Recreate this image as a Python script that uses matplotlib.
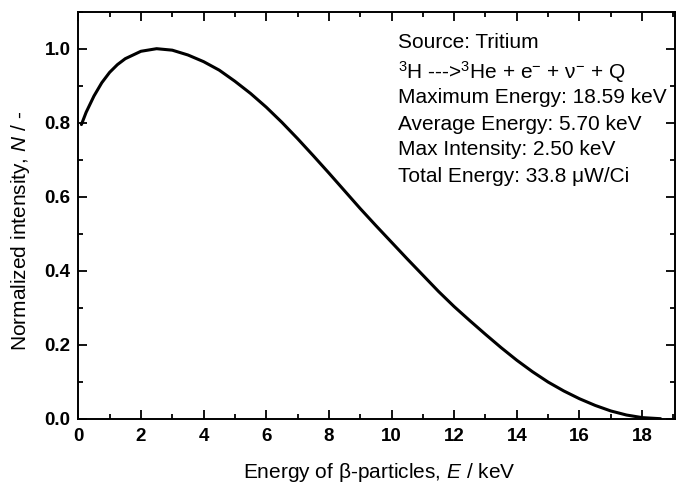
import matplotlib
matplotlib.use("Agg")
import matplotlib.pyplot as plt
from matplotlib.ticker import MultipleLocator

plt.rcParams['font.family'] = ['Liberation Sans', 'DejaVu Sans']
plt.rcParams['mathtext.fontset'] = 'custom'
plt.rcParams['mathtext.rm'] = 'Liberation Sans'
plt.rcParams['mathtext.it'] = 'Liberation Sans:italic'
plt.rcParams['mathtext.bf'] = 'Liberation Sans:bold'

energy = [0.1, 0.25, 0.5, 0.75, 1.0, 1.25, 1.5, 2.0, 2.5, 3.0, 3.5, 4.0, 4.5, 5.0,
          5.5, 6.0, 6.5, 7.0, 7.5, 8.0, 8.5, 9.0, 9.5, 10.0, 10.5, 11.0, 11.5,
          12.0, 12.5, 13.0, 13.5, 14.0, 14.5, 15.0, 15.5, 16.0, 16.5, 17.0,
          17.5, 18.0, 18.59]
intensity = [0.795, 0.828, 0.872, 0.908, 0.936, 0.957, 0.973, 0.993, 1.000, 0.996,
             0.983, 0.965, 0.942, 0.912, 0.879, 0.842, 0.801, 0.757, 0.711, 0.664,
             0.616, 0.568, 0.522, 0.477, 0.432, 0.388, 0.344, 0.303, 0.265, 0.228,
             0.192, 0.158, 0.127, 0.099, 0.075, 0.054, 0.036, 0.021, 0.010, 0.003,
             0.0]

x_ticks = [0, 2, 4, 6, 8, 10, 12, 14, 16, 18]
y_ticks = [0.0, 0.2, 0.4, 0.6, 0.8, 1.0]

info_lines = [
    "Source: Tritium",
    r"$^{3}$H --->$^{3}$He + e$^{-}$ + ν$^{-}$ + Q",
    "Maximum Energy: 18.59 keV",
    "Average Energy: 5.70 keV",
    "Max Intensity: 2.50 keV",
    "Total Energy: 33.8 μW/Ci",
]

fig = plt.figure(figsize=(6.79, 4.83), dpi=100)
ax = fig.add_axes([0.1153, 0.1331, 0.8788, 0.8427])

ax.plot(energy, intensity, color='black', lw=2.2, solid_capstyle='round',
        solid_joinstyle='round')

ax.set_xlim(0, 19.05)
ax.set_ylim(0, 1.1)
ax.set_xticks(x_ticks)
ax.set_yticks(y_ticks)
ax.set_xticklabels([str(t) for t in x_ticks])
ax.set_yticklabels([f"{t:.1f}" for t in y_ticks])
ax.xaxis.set_minor_locator(MultipleLocator(1))
ax.yaxis.set_minor_locator(MultipleLocator(0.1))

ax.tick_params(which='both', direction='in', top=True, right=True, width=1.3)
ax.tick_params(which='major', length=6.5, labelsize=13.5)
ax.tick_params(axis='x', which='major', pad=7)
ax.tick_params(axis='y', which='major', pad=5.5)
ax.tick_params(which='minor', length=3.5)
for lab in ax.get_xticklabels() + ax.get_yticklabels():
    lab.set_fontweight('bold')
for sp in ax.spines.values():
    sp.set_linewidth(1.4)

fig.text(379 / 679, 1 - 478 / 483, r"Energy of β-particles, $\it{E}$ / keV",
         fontsize=15, ha='center', va='baseline')
fig.text(21 / 679, 1 - 231 / 483, r"Normalized intensity, $\it{N}$ / -",
         fontsize=15, ha='center', va='center', rotation=90)

ys = [0.910, 0.836, 0.775, 0.709, 0.648, 0.582]
for line, yy in zip(info_lines, ys):
    ax.text(0.536, yy, line, transform=ax.transAxes, fontsize=15,
            ha='left', va='baseline')

fig.savefig("out.png", dpi=100)
